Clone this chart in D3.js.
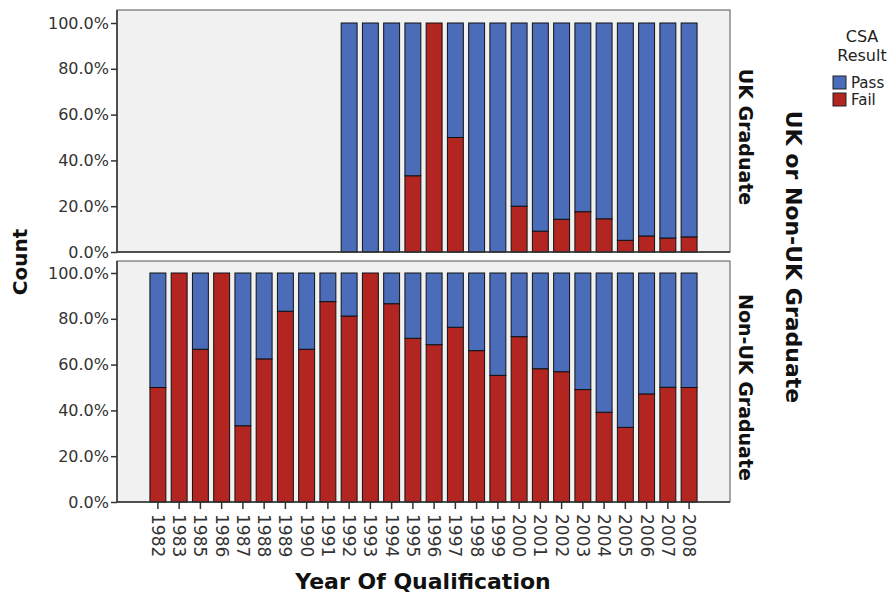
<!DOCTYPE html>
<html>
<head>
<meta charset="utf-8">
<script src="https://cdn.jsdelivr.net/npm/d3@7"></script>
<style>
  html, body { margin: 0; padding: 0; background: #fff; }
  svg { display: block; font-family: "DejaVu Sans", sans-serif; }
</style>
</head>
<body>
<svg id="chart" width="892" height="597"></svg>
<script>
// ---- data ----
const years = ["1982","1983","1985","1986","1987","1988","1989","1990","1991","1992","1993","1994","1995","1996","1997","1998","1999","2000","2001","2002","2003","2004","2005","2006","2007","2008"];
const panels = ["UK Graduate", "Non-UK Graduate"];
const seriesNames = ["Pass", "Fail"];
// percentage failing / passing (null = no data)
const ukFail = [null,null,null,null,null,null,null,null,null,0,0,0,33.3,100,50,0,0,20,9.1,14.3,17.6,14.5,5.1,7.0,6.1,6.6];
const ukPass = [null,null,null,null,null,null,null,null,null,100,100,100,66.7,0,50,100,100,80,90.9,85.7,82.4,85.5,94.9,93.0,93.9,93.4];
const nonUkFail = [50,100,66.7,100,33.3,62.5,83.3,66.7,87.5,81.2,100,86.6,71.5,68.7,76.3,66.1,55.3,72.2,58.2,56.9,49.1,39.2,32.6,47.2,50.1,50];
const nonUkPass = [50,0,33.3,0,66.7,37.5,16.7,33.3,12.5,18.8,0,13.4,28.5,31.3,23.7,33.9,44.7,27.8,41.8,43.1,50.9,60.8,67.4,52.8,49.9,50];
const yTicks = [0, 20, 40, 60, 80, 100];

const colors = { Pass: "#4a6cb9", Fail: "#b22521" };

const svg = d3.select("#chart");
const left = 117, right = 730;
const panelDefs = [
  { name: panels[0], top: 10, bottom: 252, fail: ukFail, pass: ukPass },
  { name: panels[1], top: 261, bottom: 502, fail: nonUkFail, pass: nonUkPass }
];

const x = d3.scaleBand().domain(years).range([left, right]).paddingInner(0.25).paddingOuter(1.55);

panelDefs.forEach((p, pi) => {
  const y = d3.scaleLinear().domain([0, 100]).range([p.bottom, p.bottom - 229]);
  const g = svg.append("g");
  g.append("rect")
    .attr("x", left).attr("y", p.top)
    .attr("width", right - left).attr("height", p.bottom - p.top)
    .attr("fill", "#f1f1f1")
    .attr("stroke", "#555").attr("stroke-width", 1);

  const rows = years.map((yr, i) => ({ year: yr, Fail: p.fail[i], Pass: p.pass[i] }))
    .filter(d => d.Fail !== null);

  const stack = d3.stack().keys(["Fail", "Pass"])(rows);
  stack.forEach(layer => {
    g.append("g").selectAll("rect")
      .data(layer.filter(d => d[1] - d[0] > 0))
      .join("rect")
      .attr("x", d => x(d.data.year))
      .attr("width", x.bandwidth())
      .attr("y", d => y(d[1]))
      .attr("height", d => y(d[0]) - y(d[1]))
      .attr("fill", colors[layer.key])
      .attr("stroke", "#111")
      .attr("stroke-width", 1);
  });

  const yAxis = d3.axisLeft(y).tickValues(yTicks).tickSize(6).tickPadding(2)
    .tickFormat(d => d.toFixed(1) + "%");
  const ya = g.append("g").attr("transform", `translate(${left},0)`).call(yAxis);
  ya.select(".domain").attr("stroke", "#333").attr("stroke-width", 1.5)
    .attr("d", `M0,${p.top}V${p.bottom}`);
  ya.selectAll(".tick line").attr("stroke", "#333").attr("stroke-width", 1.5);
  ya.selectAll("text").attr("font-size", 16).attr("fill", "#333")
    .attr("font-family", "DejaVu Sans");

  g.append("line").attr("x1", left).attr("x2", right)
    .attr("y1", p.bottom).attr("y2", p.bottom)
    .attr("stroke", "#333").attr("stroke-width", 1.5);

  g.append("text")
    .attr("transform", `translate(746,${(p.top + p.bottom) / 2 + 6}) rotate(90)`)
    .attr("text-anchor", "middle").attr("dy", "0.35em")
    .attr("font-size", 19).attr("font-weight", "bold").attr("fill", "#111")
    .text(p.name);

  if (pi === 1) {
    const xAxis = d3.axisBottom(x).tickSize(7).tickSizeOuter(0);
    const xa = g.append("g").attr("transform", `translate(0,${p.bottom})`).call(xAxis);
    xa.select(".domain").remove();
    xa.selectAll(".tick line").attr("stroke", "#333").attr("stroke-width", 1.5);
    xa.selectAll("text")
      .attr("transform", "rotate(90)")
      .attr("text-anchor", "start")
      .attr("x", 12).attr("y", 0).attr("dy", "0.35em")
      .attr("font-size", 17).attr("fill", "#333")
      .attr("font-family", "DejaVu Sans");
  }
});

// axis titles
svg.append("text")
  .attr("x", 423).attr("y", 589)
  .attr("text-anchor", "middle")
  .attr("font-size", 22).attr("font-weight", "bold").attr("fill", "#111")
  .text("Year Of Qualification");

svg.append("text")
  .attr("transform", "translate(20,262) rotate(-90)")
  .attr("text-anchor", "middle").attr("dy", "0.35em")
  .attr("font-size", 20).attr("font-weight", "bold").attr("fill", "#111")
  .text("Count");

svg.append("text")
  .attr("transform", "translate(794,257) rotate(90)")
  .attr("text-anchor", "middle").attr("dy", "0.35em")
  .attr("font-size", 22).attr("font-weight", "bold").attr("fill", "#111")
  .text("UK or Non-UK Graduate");

// legend
const lg = svg.append("g");
lg.append("text").attr("x", 862).attr("y", 42).attr("text-anchor", "middle")
  .attr("font-size", 16).attr("fill", "#222").text("CSA");
lg.append("text").attr("x", 862).attr("y", 61).attr("text-anchor", "middle")
  .attr("font-size", 16).attr("fill", "#222").text("Result");
seriesNames.forEach((s, i) => {
  const yy = 76 + i * 17;
  lg.append("rect").attr("x", 833).attr("y", yy).attr("width", 13).attr("height", 13)
    .attr("fill", colors[s]).attr("stroke", "#222").attr("stroke-width", 1);
  lg.append("text").attr("x", 851).attr("y", yy + 7).attr("dy", "0.35em")
    .attr("font-size", 15).attr("fill", "#222").text(s);
});
</script>
</body>
</html>
